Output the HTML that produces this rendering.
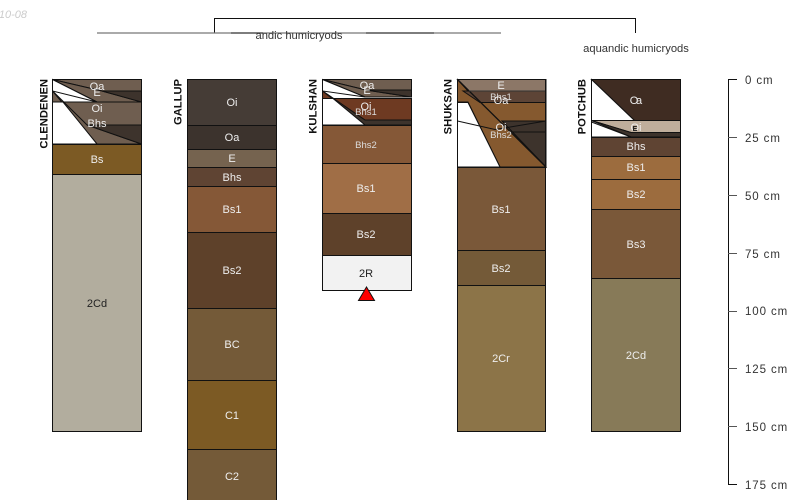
<!DOCTYPE html>
<html><head><meta charset="utf-8"><style>
html,body{margin:0;padding:0;background:#fff;width:800px;height:500px;overflow:hidden}
svg{display:block}
text{font-family:"Liberation Sans",sans-serif;font-size:11px}
.w{fill:#eee;text-anchor:middle}
.s{fill:#ddd;text-anchor:middle;font-size:9.5px}
.d{fill:#222;text-anchor:middle}
.n{font-weight:bold;font-size:11.2px;fill:#111;text-anchor:end}
.a{fill:#333;font-size:11.5px;letter-spacing:.9px}
rect,polygon,polyline{stroke:#111;stroke-width:1}
</style></head><body>
<svg width="800" height="500" viewBox="0 0 800 500" xmlns="http://www.w3.org/2000/svg">
<text x="27" y="18" text-anchor="end" style="font-style:italic;fill:#ccc;font-size:11px">2010-08</text>

<!-- dendrogram -->
<polyline points="214.5,33 214.5,18.5 635.5,18.5 635.5,33" fill="none" stroke="#111"/>
<line x1="97" y1="33" x2="501" y2="33" stroke="#777" stroke-width="1.3"/>
<line x1="231" y1="33" x2="263" y2="33" stroke="#444" stroke-width="1.3"/>
<line x1="366" y1="33" x2="434" y2="33" stroke="#444" stroke-width="1.3"/>
<text x="299" y="39" text-anchor="middle" style="fill:#333;font-size:11.2px">andic humicryods</text>
<text x="636" y="52" text-anchor="middle" style="fill:#333;font-size:11.2px">aquandic humicryods</text>

<!-- CLENDENEN -->
<polygon points="52.5,79.5 141.5,79.5 141.5,91 102,91" fill="#6f5e50"/>
<polygon points="52.5,79.5 102,91 141.5,102 97,102" fill="#6f5e50"/>
<polygon points="102,91 141.5,91 141.5,102" fill="#3d332c"/>
<polygon points="52.5,91 52.5,102 141.5,102 141.5,125 87,125" fill="#6f5e50"/>
<polygon points="52.5,91 87,125 141.5,144 97,144" fill="#6f5e50"/>
<polygon points="87,125 141.5,125 141.5,144" fill="#3d332c"/>
<polygon points="52.5,79.5 97,102 52.5,91" fill="#fff"/>
<polygon points="52.5,102 63,102 97,144 52.5,144" fill="#fff" stroke="none"/>
<line x1="52.5" y1="79" x2="52.5" y2="144" stroke="#111"/>
<rect x="52.5" y="144.5" width="89" height="30" fill="#7c5a24"/>
<rect x="52.5" y="174.5" width="89" height="257" fill="#b2ad9e"/>
<text class="w" x="97" y="90">Oa</text><text class="w" x="97" y="96">E</text>
<text class="w" x="97" y="112">Oi</text><text class="w" x="97" y="127">Bhs</text>
<text class="w" x="97" y="163">Bs</text><text class="d" x="97" y="307">2Cd</text>
<text class="n" transform="translate(47.5,79) rotate(-90)">CLENDENEN</text>

<!-- GALLUP -->
<rect x="187.5" y="79.5" width="89" height="46" fill="#453c36"/>
<rect x="187.5" y="125.5" width="89" height="24" fill="#3c332d"/>
<rect x="187.5" y="149.5" width="89" height="18" fill="#75634f"/>
<rect x="187.5" y="167.5" width="89" height="19" fill="#5f4433"/>
<rect x="187.5" y="186.5" width="89" height="46" fill="#855837"/>
<rect x="187.5" y="232.5" width="89" height="76" fill="#5e412a"/>
<rect x="187.5" y="308.5" width="89" height="72" fill="#745a38"/>
<rect x="187.5" y="380.5" width="89" height="69" fill="#7c5a24"/>
<rect x="187.5" y="449.5" width="89" height="70" fill="#745a38"/>
<text class="w" x="232" y="106">Oi</text><text class="w" x="232" y="141">Oa</text>
<text class="w" x="232" y="162">E</text><text class="w" x="232" y="181">Bhs</text>
<text class="w" x="232" y="213">Bs1</text><text class="w" x="232" y="274">Bs2</text>
<text class="w" x="232" y="348">BC</text><text class="w" x="232" y="419">C1</text>
<text class="w" x="232" y="480">C2</text>
<text class="n" transform="translate(181.5,79) rotate(-90)">GALLUP</text>

<!-- KULSHAN -->
<polygon points="322.5,79.5 411.5,79.5 411.5,90 366,90" fill="#6f5e50"/>
<polygon points="322.5,79.5 366,90 411.5,97 365,97" fill="#6f5e50"/>
<polygon points="366,90 411.5,90 411.5,97" fill="#3d332c"/>
<polygon points="322.5,91 322.5,98.5 411.5,98.5 411.5,120 365,120" fill="#6e3a22"/>
<polygon points="322.5,91 365,120 411.5,120 411.5,125 365,125" fill="#3d332c"/>
<polygon points="322.5,79.5 365,97 322.5,91" fill="#fff"/>
<polygon points="322.5,98.5 333,98.5 365,125 322.5,125" fill="#fff" stroke="none"/>
<line x1="322.5" y1="79" x2="322.5" y2="125" stroke="#111"/>
<rect x="322.5" y="125.5" width="89" height="38" fill="#855837"/>
<rect x="322.5" y="163.5" width="89" height="50" fill="#a06e46"/>
<rect x="322.5" y="213.5" width="89" height="42" fill="#5e412a"/>
<rect x="322.5" y="255.5" width="89" height="35" fill="#f2f2f2"/>
<polygon points="366.5,287 358.5,300.5 374.5,300.5" fill="#f00"/>
<text class="w" x="367" y="89">Oa</text><text class="w" x="367" y="94">E</text>
<text class="w" x="366" y="110">Oi</text><text class="s" x="366" y="115">Bhs1</text>
<text class="s" x="366" y="148">Bhs2</text>
<text class="w" x="366" y="192">Bs1</text><text class="w" x="366" y="238">Bs2</text>
<text class="d" x="366" y="277">2R</text>
<text class="n" transform="translate(316.5,79) rotate(-90)">KULSHAN</text>

<!-- SHUKSAN -->
<polygon points="457.5,79.5 457.5,102 468,102 500,167 546,167 502,121 546,121 546,91 468,91" fill="#85592f" stroke="none"/>
<polygon points="457.5,79.5 546,79.5 546,91 469,91" fill="#8c7767" stroke="none"/>
<polygon points="463,91 546,91 546,102.5 480,102.5" fill="#5d4436" stroke="none"/>
<polygon points="457.5,102.5 468,102.5 500,167 457.5,167" fill="#fff" stroke="none"/>
<polygon points="502,121 546,121 546,167" fill="#3d332c" stroke="none"/>
<line x1="457.5" y1="79.5" x2="546" y2="167" stroke="#111" stroke-width="1.3"/>
<line x1="469" y1="91" x2="546" y2="91" stroke="#333"/>
<line x1="480" y1="102.5" x2="546" y2="102.5" stroke="#111"/>
<line x1="502" y1="121" x2="546" y2="121" stroke="#111"/>
<polyline points="457.5,121 495,129.5 546,121" fill="none" stroke="#111"/>
<line x1="511" y1="132" x2="546" y2="132" stroke="#111"/>
<rect x="457.5" y="79.5" width="88" height="88" fill="none"/>
<rect x="457.5" y="167.5" width="88" height="83" fill="#7a5839"/>
<rect x="457.5" y="250.5" width="88" height="35" fill="#745a38"/>
<rect x="457.5" y="285.5" width="88" height="146" fill="#8c7448"/>
<text class="w" x="501" y="89">E</text><text class="s" x="501" y="100">Bhs1</text>
<text class="w" x="501" y="104">Oa</text><text class="w" x="501" y="131">Oi</text>
<text class="s" x="501" y="138">Bhs2</text>
<text class="w" x="501" y="213">Bs1</text><text class="w" x="501" y="272">Bs2</text>
<text class="w" x="501" y="362">2Cr</text>
<text class="n" transform="translate(451.5,79) rotate(-90)">SHUKSAN</text>

<!-- POTCHUB -->
<polygon points="591.5,79.5 680.5,79.5 680.5,121 635,121" fill="#3f2c22"/>
<polygon points="591.5,79.5 635,121 591.5,121" fill="#fff"/>
<polygon points="591.5,120.5 680.5,120.5 680.5,132.5 631,132.5" fill="#bfae9c"/>
<polygon points="591.5,120.5 631,132.5 680.5,132.5 680.5,137 631,137" fill="#3d332c"/>
<polygon points="591.5,122 631,137 591.5,137" fill="#fff" stroke="none"/>
<line x1="591.5" y1="120" x2="591.5" y2="137" stroke="#111"/>
<rect x="591.5" y="137.5" width="89" height="19" fill="#5f4433"/>
<rect x="591.5" y="156.5" width="89" height="23" fill="#9c6c3e"/>
<rect x="591.5" y="179.5" width="89" height="30" fill="#9c6c3e"/>
<rect x="591.5" y="209.5" width="89" height="69" fill="#7a5839"/>
<rect x="591.5" y="278.5" width="89" height="153" fill="#877a58"/>
<text class="w" x="634" y="104">O</text><text class="w" x="639" y="104">a</text>
<text class="w" x="636" y="131">Oi</text><text x="635" y="131" text-anchor="middle" style="font-size:7px;fill:#111;font-weight:bold">E</text>
<text class="w" x="636" y="150">Bhs</text><text class="w" x="636" y="171">Bs1</text>
<text class="w" x="636" y="198">Bs2</text><text class="w" x="636" y="248">Bs3</text>
<text class="w" x="636" y="359">2Cd</text>
<text class="n" transform="translate(585.5,79) rotate(-90)">POTCHUB</text>

<!-- axis -->
<polyline points="737,79.5 728.5,79.5 728.5,484.5 737,484.5" fill="none" stroke="#666" stroke-width="1"/>
<g stroke="#555">
<line x1="728" y1="137.5" x2="737" y2="137.5"/>
<line x1="728" y1="195.5" x2="737" y2="195.5"/>
<line x1="728" y1="253.5" x2="737" y2="253.5"/>
<line x1="728" y1="311.5" x2="737" y2="311.5"/>
<line x1="728" y1="368.5" x2="737" y2="368.5"/>
<line x1="728" y1="426.5" x2="737" y2="426.5"/>
</g>
<text class="a" x="745" y="84">0 cm</text>
<text class="a" x="745" y="142">25 cm</text>
<text class="a" x="745" y="200">50 cm</text>
<text class="a" x="745" y="258">75 cm</text>
<text class="a" x="745" y="315">100 cm</text>
<text class="a" x="745" y="373">125 cm</text>
<text class="a" x="745" y="431">150 cm</text>
<text class="a" x="745" y="489">175 cm</text>
</svg>
</body></html>
